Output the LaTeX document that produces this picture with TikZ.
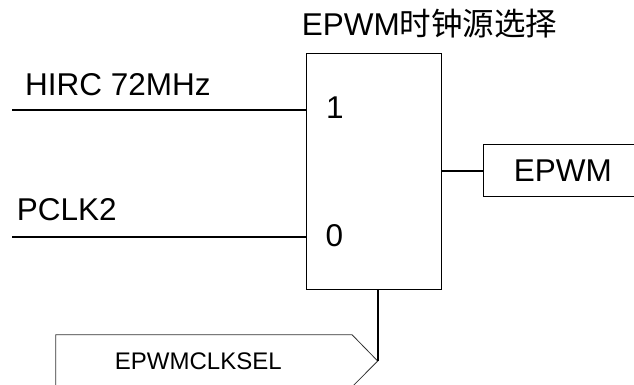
\documentclass[tikz,border=0pt]{standalone}
\usepackage{fontspec}
\setmainfont{Liberation Sans}
\newfontfamily\cjk{Noto Sans CJK SC}

\begin{document}
\begin{tikzpicture}[
        x=1pt, y=-1pt,
        label_text/.style={anchor=base west, inner sep=0pt, font=\fontsize{31.5}{38}\selectfont},
        wire/.style={black, line width=2pt},
        mux_box/.style={draw=black, line width=1pt, rectangle, inner sep=0pt, minimum width=135pt, minimum height=235.7pt},
        out_box/.style={draw=black, line width=1pt, rectangle, inner sep=0pt, minimum width=159pt, minimum height=52.7pt, font=\fontsize{31.5}{38}\selectfont},
        sel_text/.style={inner sep=0pt, font=\fontsize{24}{29}\selectfont},
        sel_outline/.style={draw=black!80, line width=0.8pt}
    ]
        \useasboundingbox (0,0) rectangle (634,385);

        \node[mux_box] (mux) at (374.2, 171.2) {};
        \node[out_box] (epwm) at (562.8, 170.5) {EPWM};

        % select signal flag
        \node[sel_text] (sel) at (198.3, 361) {EPWMCLKSEL};
        \coordinate (sel_tip) at (377.7, 361);
        \draw[sel_outline] (55.7, 395) -- (55.7, 334.7) -- (352, 334.7) -- (sel_tip) -- (344, 395);

        \coordinate (hirc) at (12, 110);
        \coordinate (pclk) at (12, 237.3);

        \draw[wire] (hirc) -- (hirc -| mux.west);
        \draw[wire] (pclk) -- (pclk -| mux.west);
        \draw[wire] (mux.east |- epwm.west) -- (epwm.west);
        \draw[wire] (sel_tip |- mux.south) -- (sel_tip);

        \node[label_text] (title) at (301.7, 35.7) {EPWM{\cjk 时钟源选择}};
        \node[label_text] (hirc_text) at (25, 95.7) {HIRC 72MHz};
        \node[label_text] (pclk_text) at (16.7, 220) {PCLK2};
        \node[label_text] (in_one) at (326, 118.7) {1};
        \node[label_text] (in_zero) at (325.3, 246.7) {0};
    \end{tikzpicture}
\end{document}
